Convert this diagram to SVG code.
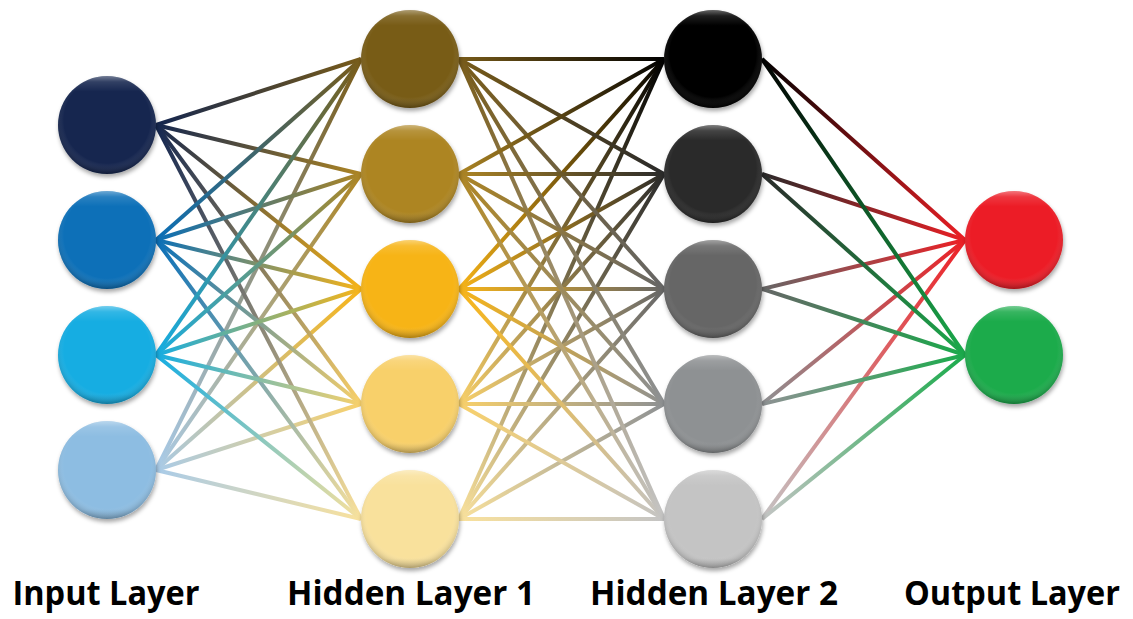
<svg xmlns="http://www.w3.org/2000/svg" width="1133" height="619" viewBox="0 0 1133 619">
<style>
.e{fill:none;stroke-width:4;stroke-linecap:butt}
.lbl{font-family:"Open Sans","Liberation Sans",sans-serif;font-weight:bold;font-size:34px;fill:#000;text-anchor:middle}
.sh{fill:url(#shade)}
.gl{fill:url(#gloss)}
</style>
<defs>
<filter id="ds" x="-30%" y="-30%" width="160%" height="160%"><feDropShadow dx="1" dy="3" stdDeviation="2.2" flood-color="#000" flood-opacity="0.35"/></filter>
<radialGradient id="shade" cx="0.5" cy="0.45" r="0.55"><stop offset="0" stop-color="#fff" stop-opacity="0"/><stop offset="0.8" stop-color="#fff" stop-opacity="0"/><stop offset="1" stop-color="#000" stop-opacity="0.22"/></radialGradient>
<linearGradient id="gloss" x1="0" y1="0" x2="0" y2="1"><stop offset="0" stop-color="#fff" stop-opacity="0.4"/><stop offset="0.06" stop-color="#fff" stop-opacity="0.12"/><stop offset="0.16" stop-color="#fff" stop-opacity="0"/><stop offset="0.9" stop-color="#000" stop-opacity="0"/><stop offset="1" stop-color="#000" stop-opacity="0.12"/></linearGradient>
<!-- input -> hidden1 -->
<linearGradient id="a00" gradientUnits="userSpaceOnUse" x1="156" y1="0" x2="361" y2="0"><stop offset="0" stop-color="#14264f"/><stop offset="1" stop-color="#785b19"/></linearGradient>
<linearGradient id="a01" gradientUnits="userSpaceOnUse" x1="156" y1="0" x2="361" y2="0"><stop offset="0" stop-color="#14264f"/><stop offset="1" stop-color="#ad8524"/></linearGradient>
<linearGradient id="a02" gradientUnits="userSpaceOnUse" x1="156" y1="0" x2="361" y2="0"><stop offset="0" stop-color="#14264f"/><stop offset="1" stop-color="#f7b418"/></linearGradient>
<linearGradient id="a03" gradientUnits="userSpaceOnUse" x1="156" y1="0" x2="361" y2="0"><stop offset="0" stop-color="#14264f"/><stop offset="1" stop-color="#f8d06a"/></linearGradient>
<linearGradient id="a04" gradientUnits="userSpaceOnUse" x1="156" y1="0" x2="361" y2="0"><stop offset="0" stop-color="#14264f"/><stop offset="1" stop-color="#f9e19c"/></linearGradient>
<linearGradient id="a10" gradientUnits="userSpaceOnUse" x1="156" y1="0" x2="361" y2="0"><stop offset="0" stop-color="#0a6fb8"/><stop offset="1" stop-color="#785b19"/></linearGradient>
<linearGradient id="a11" gradientUnits="userSpaceOnUse" x1="156" y1="0" x2="361" y2="0"><stop offset="0" stop-color="#0a6fb8"/><stop offset="1" stop-color="#ad8524"/></linearGradient>
<linearGradient id="a12" gradientUnits="userSpaceOnUse" x1="156" y1="0" x2="361" y2="0"><stop offset="0" stop-color="#0a6fb8"/><stop offset="1" stop-color="#f7b418"/></linearGradient>
<linearGradient id="a13" gradientUnits="userSpaceOnUse" x1="156" y1="0" x2="361" y2="0"><stop offset="0" stop-color="#0a6fb8"/><stop offset="1" stop-color="#f8d06a"/></linearGradient>
<linearGradient id="a14" gradientUnits="userSpaceOnUse" x1="156" y1="0" x2="361" y2="0"><stop offset="0" stop-color="#0a6fb8"/><stop offset="1" stop-color="#f9e19c"/></linearGradient>
<linearGradient id="a20" gradientUnits="userSpaceOnUse" x1="156" y1="0" x2="361" y2="0"><stop offset="0" stop-color="#16ade2"/><stop offset="1" stop-color="#785b19"/></linearGradient>
<linearGradient id="a21" gradientUnits="userSpaceOnUse" x1="156" y1="0" x2="361" y2="0"><stop offset="0" stop-color="#16ade2"/><stop offset="1" stop-color="#ad8524"/></linearGradient>
<linearGradient id="a22" gradientUnits="userSpaceOnUse" x1="156" y1="0" x2="361" y2="0"><stop offset="0" stop-color="#16ade2"/><stop offset="1" stop-color="#f7b418"/></linearGradient>
<linearGradient id="a23" gradientUnits="userSpaceOnUse" x1="156" y1="0" x2="361" y2="0"><stop offset="0" stop-color="#16ade2"/><stop offset="1" stop-color="#f8d06a"/></linearGradient>
<linearGradient id="a24" gradientUnits="userSpaceOnUse" x1="156" y1="0" x2="361" y2="0"><stop offset="0" stop-color="#16ade2"/><stop offset="1" stop-color="#f9e19c"/></linearGradient>
<linearGradient id="a30" gradientUnits="userSpaceOnUse" x1="156" y1="0" x2="361" y2="0"><stop offset="0" stop-color="#a9cbe8"/><stop offset="1" stop-color="#785b19"/></linearGradient>
<linearGradient id="a31" gradientUnits="userSpaceOnUse" x1="156" y1="0" x2="361" y2="0"><stop offset="0" stop-color="#a9cbe8"/><stop offset="1" stop-color="#ad8524"/></linearGradient>
<linearGradient id="a32" gradientUnits="userSpaceOnUse" x1="156" y1="0" x2="361" y2="0"><stop offset="0" stop-color="#a9cbe8"/><stop offset="1" stop-color="#f7b418"/></linearGradient>
<linearGradient id="a33" gradientUnits="userSpaceOnUse" x1="156" y1="0" x2="361" y2="0"><stop offset="0" stop-color="#a9cbe8"/><stop offset="1" stop-color="#f8d06a"/></linearGradient>
<linearGradient id="a34" gradientUnits="userSpaceOnUse" x1="156" y1="0" x2="361" y2="0"><stop offset="0" stop-color="#a9cbe8"/><stop offset="1" stop-color="#f9e19c"/></linearGradient>
<!-- hidden1 -> hidden2 -->
<linearGradient id="b00" gradientUnits="userSpaceOnUse" x1="459" y1="0" x2="664" y2="0"><stop offset="0" stop-color="#785b19"/><stop offset="1" stop-color="#000000"/></linearGradient>
<linearGradient id="b01" gradientUnits="userSpaceOnUse" x1="459" y1="0" x2="664" y2="0"><stop offset="0" stop-color="#785b19"/><stop offset="1" stop-color="#2a2a2a"/></linearGradient>
<linearGradient id="b02" gradientUnits="userSpaceOnUse" x1="459" y1="0" x2="664" y2="0"><stop offset="0" stop-color="#785b19"/><stop offset="1" stop-color="#666666"/></linearGradient>
<linearGradient id="b03" gradientUnits="userSpaceOnUse" x1="459" y1="0" x2="664" y2="0"><stop offset="0" stop-color="#785b19"/><stop offset="1" stop-color="#8e9193"/></linearGradient>
<linearGradient id="b04" gradientUnits="userSpaceOnUse" x1="459" y1="0" x2="664" y2="0"><stop offset="0" stop-color="#785b19"/><stop offset="1" stop-color="#c4c4c4"/></linearGradient>
<linearGradient id="b10" gradientUnits="userSpaceOnUse" x1="459" y1="0" x2="664" y2="0"><stop offset="0" stop-color="#ad8524"/><stop offset="1" stop-color="#000000"/></linearGradient>
<linearGradient id="b11" gradientUnits="userSpaceOnUse" x1="459" y1="0" x2="664" y2="0"><stop offset="0" stop-color="#ad8524"/><stop offset="1" stop-color="#2a2a2a"/></linearGradient>
<linearGradient id="b12" gradientUnits="userSpaceOnUse" x1="459" y1="0" x2="664" y2="0"><stop offset="0" stop-color="#ad8524"/><stop offset="1" stop-color="#666666"/></linearGradient>
<linearGradient id="b13" gradientUnits="userSpaceOnUse" x1="459" y1="0" x2="664" y2="0"><stop offset="0" stop-color="#ad8524"/><stop offset="1" stop-color="#8e9193"/></linearGradient>
<linearGradient id="b14" gradientUnits="userSpaceOnUse" x1="459" y1="0" x2="664" y2="0"><stop offset="0" stop-color="#ad8524"/><stop offset="1" stop-color="#c4c4c4"/></linearGradient>
<linearGradient id="b20" gradientUnits="userSpaceOnUse" x1="459" y1="0" x2="664" y2="0"><stop offset="0" stop-color="#f7b418"/><stop offset="1" stop-color="#000000"/></linearGradient>
<linearGradient id="b21" gradientUnits="userSpaceOnUse" x1="459" y1="0" x2="664" y2="0"><stop offset="0" stop-color="#f7b418"/><stop offset="1" stop-color="#2a2a2a"/></linearGradient>
<linearGradient id="b22" gradientUnits="userSpaceOnUse" x1="459" y1="0" x2="664" y2="0"><stop offset="0" stop-color="#f7b418"/><stop offset="1" stop-color="#666666"/></linearGradient>
<linearGradient id="b23" gradientUnits="userSpaceOnUse" x1="459" y1="0" x2="664" y2="0"><stop offset="0" stop-color="#f7b418"/><stop offset="1" stop-color="#8e9193"/></linearGradient>
<linearGradient id="b24" gradientUnits="userSpaceOnUse" x1="459" y1="0" x2="664" y2="0"><stop offset="0" stop-color="#f7b418"/><stop offset="1" stop-color="#c4c4c4"/></linearGradient>
<linearGradient id="b30" gradientUnits="userSpaceOnUse" x1="459" y1="0" x2="664" y2="0"><stop offset="0" stop-color="#f8d06a"/><stop offset="1" stop-color="#000000"/></linearGradient>
<linearGradient id="b31" gradientUnits="userSpaceOnUse" x1="459" y1="0" x2="664" y2="0"><stop offset="0" stop-color="#f8d06a"/><stop offset="1" stop-color="#2a2a2a"/></linearGradient>
<linearGradient id="b32" gradientUnits="userSpaceOnUse" x1="459" y1="0" x2="664" y2="0"><stop offset="0" stop-color="#f8d06a"/><stop offset="1" stop-color="#666666"/></linearGradient>
<linearGradient id="b33" gradientUnits="userSpaceOnUse" x1="459" y1="0" x2="664" y2="0"><stop offset="0" stop-color="#f8d06a"/><stop offset="1" stop-color="#8e9193"/></linearGradient>
<linearGradient id="b34" gradientUnits="userSpaceOnUse" x1="459" y1="0" x2="664" y2="0"><stop offset="0" stop-color="#f8d06a"/><stop offset="1" stop-color="#c4c4c4"/></linearGradient>
<linearGradient id="b40" gradientUnits="userSpaceOnUse" x1="459" y1="0" x2="664" y2="0"><stop offset="0" stop-color="#f9e19c"/><stop offset="1" stop-color="#000000"/></linearGradient>
<linearGradient id="b41" gradientUnits="userSpaceOnUse" x1="459" y1="0" x2="664" y2="0"><stop offset="0" stop-color="#f9e19c"/><stop offset="1" stop-color="#2a2a2a"/></linearGradient>
<linearGradient id="b42" gradientUnits="userSpaceOnUse" x1="459" y1="0" x2="664" y2="0"><stop offset="0" stop-color="#f9e19c"/><stop offset="1" stop-color="#666666"/></linearGradient>
<linearGradient id="b43" gradientUnits="userSpaceOnUse" x1="459" y1="0" x2="664" y2="0"><stop offset="0" stop-color="#f9e19c"/><stop offset="1" stop-color="#8e9193"/></linearGradient>
<linearGradient id="b44" gradientUnits="userSpaceOnUse" x1="459" y1="0" x2="664" y2="0"><stop offset="0" stop-color="#f9e19c"/><stop offset="1" stop-color="#c4c4c4"/></linearGradient>
<!-- hidden2 -> output -->
<linearGradient id="c00" gradientUnits="userSpaceOnUse" x1="762" y1="0" x2="965" y2="0"><stop offset="0" stop-color="#000000"/><stop offset="1" stop-color="#ec1f25"/></linearGradient>
<linearGradient id="c01" gradientUnits="userSpaceOnUse" x1="762" y1="0" x2="965" y2="0"><stop offset="0" stop-color="#000000"/><stop offset="1" stop-color="#1bab4c"/></linearGradient>
<linearGradient id="c10" gradientUnits="userSpaceOnUse" x1="762" y1="0" x2="965" y2="0"><stop offset="0" stop-color="#2a2a2a"/><stop offset="1" stop-color="#ec1f25"/></linearGradient>
<linearGradient id="c11" gradientUnits="userSpaceOnUse" x1="762" y1="0" x2="965" y2="0"><stop offset="0" stop-color="#2a2a2a"/><stop offset="1" stop-color="#1bab4c"/></linearGradient>
<linearGradient id="c20" gradientUnits="userSpaceOnUse" x1="762" y1="0" x2="965" y2="0"><stop offset="0" stop-color="#666666"/><stop offset="1" stop-color="#ec1f25"/></linearGradient>
<linearGradient id="c21" gradientUnits="userSpaceOnUse" x1="762" y1="0" x2="965" y2="0"><stop offset="0" stop-color="#666666"/><stop offset="1" stop-color="#1bab4c"/></linearGradient>
<linearGradient id="c30" gradientUnits="userSpaceOnUse" x1="762" y1="0" x2="965" y2="0"><stop offset="0" stop-color="#8e9193"/><stop offset="1" stop-color="#ec1f25"/></linearGradient>
<linearGradient id="c31" gradientUnits="userSpaceOnUse" x1="762" y1="0" x2="965" y2="0"><stop offset="0" stop-color="#8e9193"/><stop offset="1" stop-color="#1bab4c"/></linearGradient>
<linearGradient id="c40" gradientUnits="userSpaceOnUse" x1="762" y1="0" x2="965" y2="0"><stop offset="0" stop-color="#c4c4c4"/><stop offset="1" stop-color="#ec1f25"/></linearGradient>
<linearGradient id="c41" gradientUnits="userSpaceOnUse" x1="762" y1="0" x2="965" y2="0"><stop offset="0" stop-color="#c4c4c4"/><stop offset="1" stop-color="#1bab4c"/></linearGradient>
</defs>
<rect width="1133" height="619" fill="#fff"/>
<g id="connectors">
<line class="e" stroke="url(#a30)" x1="156" y1="470" x2="361" y2="59"/>
<line class="e" stroke="url(#a31)" x1="156" y1="470" x2="361" y2="174"/>
<line class="e" stroke="url(#a32)" x1="156" y1="470" x2="361" y2="289"/>
<line class="e" stroke="url(#a33)" x1="156" y1="470" x2="361" y2="404"/>
<line class="e" stroke="url(#a34)" x1="156" y1="470" x2="361" y2="519"/>
<line class="e" stroke="url(#a00)" x1="156" y1="125" x2="361" y2="59"/>
<line class="e" stroke="url(#a01)" x1="156" y1="125" x2="361" y2="174"/>
<line class="e" stroke="url(#a02)" x1="156" y1="125" x2="361" y2="289"/>
<line class="e" stroke="url(#a03)" x1="156" y1="125" x2="361" y2="404"/>
<line class="e" stroke="url(#a04)" x1="156" y1="125" x2="361" y2="519"/>
<line class="e" stroke="url(#a10)" x1="156" y1="240" x2="361" y2="59"/>
<line class="e" stroke="url(#a11)" x1="156" y1="240" x2="361" y2="174"/>
<line class="e" stroke="url(#a12)" x1="156" y1="240" x2="361" y2="289"/>
<line class="e" stroke="url(#a13)" x1="156" y1="240" x2="361" y2="404"/>
<line class="e" stroke="url(#a14)" x1="156" y1="240" x2="361" y2="519"/>
<line class="e" stroke="url(#a20)" x1="156" y1="355" x2="361" y2="59"/>
<line class="e" stroke="url(#a21)" x1="156" y1="355" x2="361" y2="174"/>
<line class="e" stroke="url(#a22)" x1="156" y1="355" x2="361" y2="289"/>
<line class="e" stroke="url(#a23)" x1="156" y1="355" x2="361" y2="404"/>
<line class="e" stroke="url(#a24)" x1="156" y1="355" x2="361" y2="519"/>

<line class="e" stroke="url(#b40)" x1="459" y1="519" x2="664" y2="59"/>
<line class="e" stroke="url(#b41)" x1="459" y1="519" x2="664" y2="174"/>
<line class="e" stroke="url(#b42)" x1="459" y1="519" x2="664" y2="289"/>
<line class="e" stroke="url(#b43)" x1="459" y1="519" x2="664" y2="404"/>
<line class="e" stroke="url(#b44)" x1="459" y1="519" x2="664" y2="519"/>
<line class="e" stroke="url(#b30)" x1="459" y1="404" x2="664" y2="59"/>
<line class="e" stroke="url(#b31)" x1="459" y1="404" x2="664" y2="174"/>
<line class="e" stroke="url(#b32)" x1="459" y1="404" x2="664" y2="289"/>
<line class="e" stroke="url(#b33)" x1="459" y1="404" x2="664" y2="404"/>
<line class="e" stroke="url(#b34)" x1="459" y1="404" x2="664" y2="519"/>
<line class="e" stroke="url(#b20)" x1="459" y1="289" x2="664" y2="59"/>
<line class="e" stroke="url(#b21)" x1="459" y1="289" x2="664" y2="174"/>
<line class="e" stroke="url(#b22)" x1="459" y1="289" x2="664" y2="289"/>
<line class="e" stroke="url(#b23)" x1="459" y1="289" x2="664" y2="404"/>
<line class="e" stroke="url(#b24)" x1="459" y1="289" x2="664" y2="519"/>
<line class="e" stroke="url(#b00)" x1="459" y1="59" x2="664" y2="59"/>
<line class="e" stroke="url(#b01)" x1="459" y1="59" x2="664" y2="174"/>
<line class="e" stroke="url(#b02)" x1="459" y1="59" x2="664" y2="289"/>
<line class="e" stroke="url(#b03)" x1="459" y1="59" x2="664" y2="404"/>
<line class="e" stroke="url(#b04)" x1="459" y1="59" x2="664" y2="519"/>
<line class="e" stroke="url(#b10)" x1="459" y1="174" x2="664" y2="59"/>
<line class="e" stroke="url(#b11)" x1="459" y1="174" x2="664" y2="174"/>
<line class="e" stroke="url(#b12)" x1="459" y1="174" x2="664" y2="289"/>
<line class="e" stroke="url(#b13)" x1="459" y1="174" x2="664" y2="404"/>
<line class="e" stroke="url(#b14)" x1="459" y1="174" x2="664" y2="519"/>

<line class="e" stroke="url(#c40)" x1="762" y1="519" x2="965" y2="240"/>
<line class="e" stroke="url(#c41)" x1="762" y1="519" x2="965" y2="355"/>
<line class="e" stroke="url(#c30)" x1="762" y1="404" x2="965" y2="240"/>
<line class="e" stroke="url(#c31)" x1="762" y1="404" x2="965" y2="355"/>
<line class="e" stroke="url(#c20)" x1="762" y1="289" x2="965" y2="240"/>
<line class="e" stroke="url(#c21)" x1="762" y1="289" x2="965" y2="355"/>
<line class="e" stroke="url(#c10)" x1="762" y1="174" x2="965" y2="240"/>
<line class="e" stroke="url(#c11)" x1="762" y1="174" x2="965" y2="355"/>
<line class="e" stroke="url(#c00)" x1="762" y1="59" x2="965" y2="240"/>
<line class="e" stroke="url(#c01)" x1="762" y1="59" x2="965" y2="355"/>
</g>
<g id="input-layer">
<g id="in1"><circle cx="107" cy="125" r="49" fill="#14264f" filter="url(#ds)"/><circle class="sh" cx="107" cy="125" r="49"/><circle class="gl" cx="107" cy="125" r="49"/></g>
<g id="in2"><circle cx="107" cy="240" r="49" fill="#0a6fb8" filter="url(#ds)"/><circle class="sh" cx="107" cy="240" r="49"/><circle class="gl" cx="107" cy="240" r="49"/></g>
<g id="in3"><circle cx="107" cy="355" r="49" fill="#16ade2" filter="url(#ds)"/><circle class="sh" cx="107" cy="355" r="49"/><circle class="gl" cx="107" cy="355" r="49"/></g>
<g id="in4"><circle cx="107" cy="470" r="49" fill="#8dbde2" filter="url(#ds)"/><circle class="sh" cx="107" cy="470" r="49"/><circle class="gl" cx="107" cy="470" r="49"/></g>
</g>
<g id="hidden-layer-1">
<g id="h1n1"><circle cx="410" cy="59" r="49" fill="#785b19" filter="url(#ds)"/><circle class="sh" cx="410" cy="59" r="49"/><circle class="gl" cx="410" cy="59" r="49"/></g>
<g id="h1n2"><circle cx="410" cy="174" r="49" fill="#ad8524" filter="url(#ds)"/><circle class="sh" cx="410" cy="174" r="49"/><circle class="gl" cx="410" cy="174" r="49"/></g>
<g id="h1n3"><circle cx="410" cy="289" r="49" fill="#f7b418" filter="url(#ds)"/><circle class="sh" cx="410" cy="289" r="49"/><circle class="gl" cx="410" cy="289" r="49"/></g>
<g id="h1n4"><circle cx="410" cy="404" r="49" fill="#f8d06a" filter="url(#ds)"/><circle class="sh" cx="410" cy="404" r="49"/><circle class="gl" cx="410" cy="404" r="49"/></g>
<g id="h1n5"><circle cx="410" cy="519" r="49" fill="#f9e19c" filter="url(#ds)"/><circle class="sh" cx="410" cy="519" r="49"/><circle class="gl" cx="410" cy="519" r="49"/></g>
</g>
<g id="hidden-layer-2">
<g id="h2n1"><circle cx="713" cy="59" r="49" fill="#000000" filter="url(#ds)"/><circle class="sh" cx="713" cy="59" r="49"/><circle class="gl" cx="713" cy="59" r="49"/></g>
<g id="h2n2"><circle cx="713" cy="174" r="49" fill="#2a2a2a" filter="url(#ds)"/><circle class="sh" cx="713" cy="174" r="49"/><circle class="gl" cx="713" cy="174" r="49"/></g>
<g id="h2n3"><circle cx="713" cy="289" r="49" fill="#666666" filter="url(#ds)"/><circle class="sh" cx="713" cy="289" r="49"/><circle class="gl" cx="713" cy="289" r="49"/></g>
<g id="h2n4"><circle cx="713" cy="404" r="49" fill="#8e9193" filter="url(#ds)"/><circle class="sh" cx="713" cy="404" r="49"/><circle class="gl" cx="713" cy="404" r="49"/></g>
<g id="h2n5"><circle cx="713" cy="519" r="49" fill="#c4c4c4" filter="url(#ds)"/><circle class="sh" cx="713" cy="519" r="49"/><circle class="gl" cx="713" cy="519" r="49"/></g>
</g>
<g id="output-layer">
<g id="out1"><circle cx="1014" cy="240" r="49" fill="#ec1f25" filter="url(#ds)"/><circle class="sh" cx="1014" cy="240" r="49"/><circle class="gl" cx="1014" cy="240" r="49"/></g>
<g id="out2"><circle cx="1014" cy="355" r="49" fill="#1bab4c" filter="url(#ds)"/><circle class="sh" cx="1014" cy="355" r="49"/><circle class="gl" cx="1014" cy="355" r="49"/></g>
</g>
<g id="labels">
<text class="lbl" x="106" y="605" textLength="187" lengthAdjust="spacingAndGlyphs">Input Layer</text>
<text class="lbl" x="411" y="605" textLength="248" lengthAdjust="spacingAndGlyphs">Hidden Layer 1</text>
<text class="lbl" x="714" y="605" textLength="248" lengthAdjust="spacingAndGlyphs">Hidden Layer 2</text>
<text class="lbl" x="1012" y="605" textLength="216" lengthAdjust="spacingAndGlyphs">Output Layer</text>
</g>
</svg>
